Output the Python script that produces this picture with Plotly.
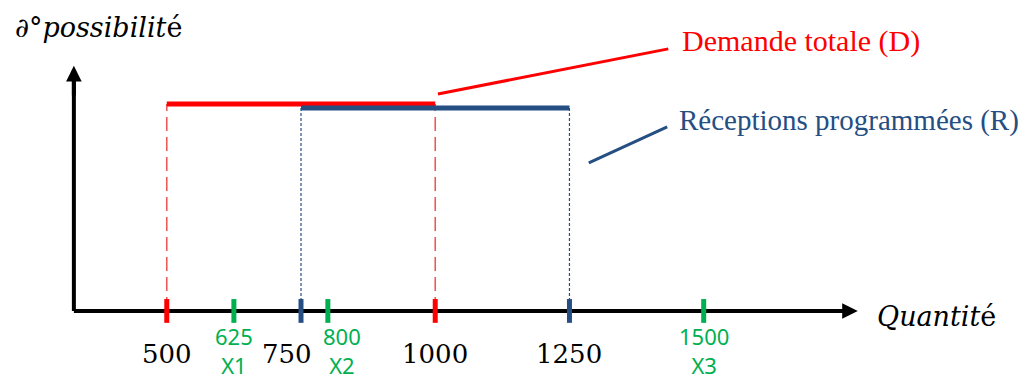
import plotly.graph_objects as go

demand = [500, 1000]          # Demande totale (D)
demand_level = 1.0
receptions = [750, 1250]      # Réceptions programmées (R)
receptions_level = 0.98
x_values = [625, 800, 1500]
x_names = ["X1", "X2", "X3"]
bound_labels = [500, 750, 1000, 1250]

_RED = "#FF0000"
_RED_DASH = "#EE5A5A"
_BLUE = "#254E82"
_GREEN = "#00B050"
_SERIF = "DejaVu Serif"

# axes geometry (data units)
_X0, _X_TIP = 327, 1787
_Y_TIP = 1.184

# nudges so that the close labels 750 / 800 do not collide
_LABEL_SHIFT = {750: -14, 800: 14}

fig = go.Figure()

# axis lines
fig.add_trace(go.Scatter(x=[_X0, _X_TIP - 20], y=[0, 0], mode="lines",
                         line=dict(color="black", width=4)))
fig.add_trace(go.Scatter(x=[_X0, _X0], y=[0, _Y_TIP - 0.05], mode="lines",
                         line=dict(color="black", width=4)))

# dashed verticals
fig.add_trace(go.Scatter(
    x=[demand[0], demand[0], None, demand[1], demand[1]],
    y=[0, demand_level, None, 0, demand_level],
    mode="lines", line=dict(color=_RED_DASH, width=1.6, dash="14px,6px")))
fig.add_trace(go.Scatter(
    x=[receptions[0], receptions[0], None, receptions[1], receptions[1]],
    y=[0, receptions_level, None, 0, receptions_level],
    mode="lines", line=dict(color=_BLUE, width=1.2, dash="3px,2px")))

# possibility levels
fig.add_trace(go.Scatter(x=demand, y=[demand_level] * 2, mode="lines",
                         line=dict(color=_RED, width=5)))
fig.add_trace(go.Scatter(x=receptions, y=[receptions_level] * 2, mode="lines",
                         line=dict(color=_BLUE, width=5)))

# tick marks on the quantity axis
for xs, color in [(demand, _RED), (receptions, _BLUE), (x_values, _GREEN)]:
    fig.add_trace(go.Scatter(
        x=xs, y=[0] * len(xs), mode="markers",
        marker=dict(symbol="line-ns", size=17, color=color,
                    line=dict(color=color, width=5))))

annotations = []
# arrow heads
annotations.append(dict(x=_X_TIP, y=0, ax=_X_TIP - 60, ay=0, xref="x", yref="y",
                        axref="x", ayref="y", text="", showarrow=True,
                        arrowhead=2, arrowsize=0.78, arrowwidth=4, arrowcolor="black"))
annotations.append(dict(x=_X0, y=_Y_TIP, ax=_X0, ay=_Y_TIP - 0.15, xref="x", yref="y",
                        axref="x", ayref="y", text="", showarrow=True,
                        arrowhead=2, arrowsize=0.78, arrowwidth=4, arrowcolor="black"))

for v in bound_labels:
    annotations.append(dict(x=v, y=-0.208, xref="x", yref="y", text=str(v),
                            showarrow=False, xshift=_LABEL_SHIFT.get(v, 0),
                            font=dict(family=_SERIF, size=26, color="black")))

for v, name in zip(x_values, x_names):
    annotations.append(dict(x=v, y=-0.19, xref="x", yref="y",
                            text=f"{v}<br>{name}", showarrow=False,
                            xshift=_LABEL_SHIFT.get(v, 0),
                            font=dict(family="Noto Sans", size=22, color=_GREEN)))

_text = dict(xref="paper", yref="paper", xanchor="left", yanchor="middle",
             showarrow=False)
annotations += [
    dict(x=13 / 1036, y=1 - 27 / 383, text="<i>∂°possibilit</i>é",
         font=dict(family=_SERIF, size=27, color="black"), **_text),
    dict(x=875 / 1036, y=1 - 316 / 383, text="<i>Quantit</i>é",
         font=dict(family=_SERIF, size=27, color="black"), **_text),
    dict(x=680 / 1036, y=1 - 41 / 383, text="Demande totale (D)",
         font=dict(family="Liberation Serif", size=30, color=_RED), **_text),
    dict(x=677 / 1036, y=1 - 120 / 383, text="Réceptions programmées (R)",
         font=dict(family="Liberation Serif", size=29, color=_BLUE), **_text),
]

# leader lines to the labels
shapes = [
    dict(type="line", xref="x", yref="y", x0=demand[1] + 5, y0=demand_level + 0.048,
         x1=1434, y1=1.266, line=dict(color=_RED, width=3)),
    dict(type="line", xref="x", yref="y", x0=receptions[1] + 36, y0=0.715,
         x1=1432, y1=0.889, line=dict(color=_BLUE, width=3)),
]

fig.update_layout(
    width=1036, height=383, margin=dict(l=0, r=0, t=0, b=0),
    template="plotly_white", showlegend=False,
    plot_bgcolor="white", paper_bgcolor="white",
    xaxis=dict(visible=False, range=[189.4, 2118.9], fixedrange=True),
    yaxis=dict(visible=False, range=[-0.348, 1.502], fixedrange=True),
    annotations=annotations, shapes=shapes, hovermode=False,
)

fig.write_html("out.html", config={"displayModeBar": False},
               post_script="document.body.style.margin='0';")
